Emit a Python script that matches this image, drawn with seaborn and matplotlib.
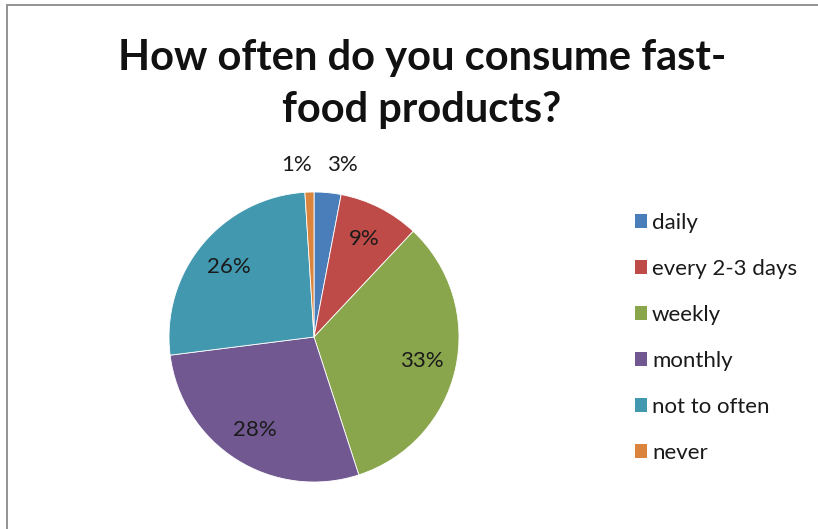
import numpy as np
import matplotlib
matplotlib.use("Agg")
import matplotlib.pyplot as plt
from matplotlib.patches import Patch, Rectangle
import seaborn as sns

categories = ["daily", "every 2-3 days", "weekly", "monthly", "not to often", "never"]
values = [3, 9, 33, 28, 26, 1]
colors = ["#4a7ebb", "#be4b48", "#8aa64d", "#715891", "#4198af", "#db843d"]
title = "How often do you consume fast-\nfood products?"

sns.set_theme(style="white")
plt.rcParams["font.family"] = ["Lato", "DejaVu Sans"]
palette = sns.color_palette(colors)

W, H = 818, 529
fig = plt.figure(figsize=(W / 100, H / 100), dpi=100)
fig.patch.set_facecolor("white")

# outer chart border
fig.patches.append(Rectangle((7 / W, -0.05), 1.2, (529 - 5) / H + 0.05,
                             transform=fig.transFigure, fill=False,
                             edgecolor="#8a8a8a", linewidth=1.3))

cx, cy, r = 314, 337, 145
ax = fig.add_axes([(cx - r) / W, (H - cy - r) / H, 2 * r / W, 2 * r / H])

wedges, texts, autotexts = ax.pie(
    values, colors=palette, startangle=90, counterclock=False,
    autopct="%1.0f%%", pctdistance=0.76,
    wedgeprops=dict(linewidth=0.6, edgecolor="white"),
    textprops=dict(fontsize=16, color="#1a1a1a"))
ax.set_xlim(-1, 1)
ax.set_ylim(-1, 1)
ax.set_aspect("equal")
ax.axis("off")

# move small-slice labels outside
for w, t, v in zip(wedges, autotexts, values):
    if v < 5:
        ang = np.deg2rad((w.theta1 + w.theta2) / 2)
        x, y = 1.19 * np.cos(ang), 1.19 * np.sin(ang)
        t.set_position((x + (0.02 if x < 0.05 else -0.02), y))
        t.set_ha("right" if x < 0.05 else "left")

fig.text(422 / W, 1 - 84 / H, title, ha="center", va="center",
         fontsize=30, fontweight="bold", color="#111111", linespacing=1.45)

handles = [Patch(facecolor=c, edgecolor="none") for c in palette]
fig.legend(handles, categories, loc="upper left",
           bbox_to_anchor=(626 / W, 1 - 204 / H), frameon=False,
           fontsize=16, handlelength=0.55, handleheight=0.55,
           handletextpad=0.22, labelspacing=1.17, borderaxespad=0,
           labelcolor="#1a1a1a")

fig.savefig("out.png", dpi=100)
